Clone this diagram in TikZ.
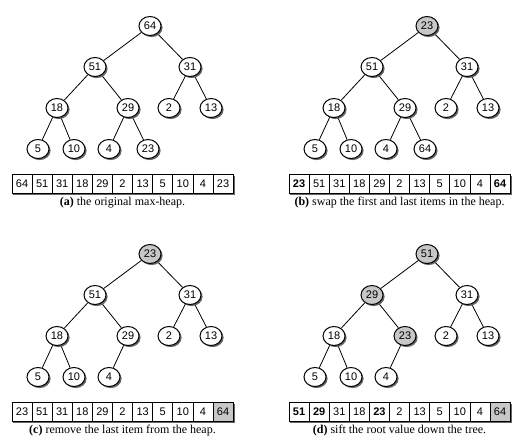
\documentclass[tikz,border=0pt]{standalone}
\usepackage{fontspec}
\setmainfont{Liberation Serif}
\setsansfont{Liberation Sans}
\usetikzlibrary{shapes.geometric,shadows,backgrounds}

\tikzset{
  x=1pt, y=-1pt,
  hnode/.style={ellipse, draw, line width=1pt, fill=white,
    minimum width=22pt, minimum height=19pt, inner sep=0pt,
    font=\sffamily\fontsize{11}{11}\selectfont,
    drop shadow={shadow xshift=1.6pt, shadow yshift=-1.6pt, fill=black!60, opacity=1}},
  hot/.style={hnode, fill=black!22},
  cell/.style={rectangle, draw, line width=0.8pt, fill=white,
    minimum width=20.1pt, minimum height=19pt, inner sep=0pt,
    font=\sffamily\fontsize{11}{11}\selectfont},
  bcell/.style={cell, font=\sffamily\bfseries\fontsize{11}{11}\selectfont},
  done/.style={cell, fill=black!22},
  edge/.style={line width=0.8pt},
  caption/.style={font=\fontsize{12}{12}\selectfont}
}

% #1 name prefix, #2/#3 panel offset, #4 number of tree nodes,
% #5 tree values/styles, #6 array values/styles, #7 caption
\newcommand\heappanel[7]{%
  \begin{scope}[shift={(#2,#3)}]
    \foreach \v/\s [count=\i] in {#5} {
      \pgfmathsetmacro\px{{150,95,190,57,128,169,211,38,74,109,148}[\i-1]}
      \pgfmathsetmacro\py{{26,67,67,108,108,108,108,149,149,149,149}[\i-1]}
      \node[\s] (#1\i) at (\px,\py) {\v};
    }
    \begin{scope}[on background layer]
      \foreach \c in {2,...,#4} {
        \pgfmathtruncatemacro\p{floor(\c/2)}
        \draw[edge] (#1\p) -- (#1\c);
      }
    \end{scope}
    \foreach \v/\s [count=\i] in {#6} {
      \node[\s] (#1c\i) at ({12+20.1*(\i-0.5)},184) {\v};
    }
    \begin{scope}[on background layer]
      \fill[black!60] ([shift={(1.5pt,-1.5pt)}]#1c1.north west)
        rectangle ([shift={(1.5pt,-1.5pt)}]#1c11.south east);
    \end{scope}
    \node[caption] (#1cap) at (122.5,203) {#7};
  \end{scope}
}

\begin{document}
\begin{tikzpicture}
  \useasboundingbox (0,0) rectangle (532,445);

  \heappanel{a}{0}{0}{11}
    {64/hnode,51/hnode,31/hnode,18/hnode,29/hnode,2/hnode,13/hnode,5/hnode,10/hnode,4/hnode,23/hnode}
    {64/cell,51/cell,31/cell,18/cell,29/cell,2/cell,13/cell,5/cell,10/cell,4/cell,23/cell}
    {\textbf{(a)} the original max-heap.}

  \heappanel{b}{277}{0}{11}
    {23/hot,51/hnode,31/hnode,18/hnode,29/hnode,2/hnode,13/hnode,5/hnode,10/hnode,4/hnode,64/hnode}
    {23/bcell,51/cell,31/cell,18/cell,29/cell,2/cell,13/cell,5/cell,10/cell,4/cell,64/bcell}
    {\textbf{(b)} swap the first and last items in the heap.}

  \heappanel{c}{0}{228}{10}
    {23/hot,51/hnode,31/hnode,18/hnode,29/hnode,2/hnode,13/hnode,5/hnode,10/hnode,4/hnode}
    {23/cell,51/cell,31/cell,18/cell,29/cell,2/cell,13/cell,5/cell,10/cell,4/cell,64/done}
    {\textbf{(c)} remove the last item from the heap.}

  \heappanel{d}{277}{228}{10}
    {51/hot,29/hot,31/hnode,18/hnode,23/hot,2/hnode,13/hnode,5/hnode,10/hnode,4/hnode}
    {51/bcell,29/bcell,31/cell,18/cell,23/bcell,2/cell,13/cell,5/cell,10/cell,4/cell,64/done}
    {\textbf{(d)} sift the root value down the tree.}
\end{tikzpicture}
\end{document}
